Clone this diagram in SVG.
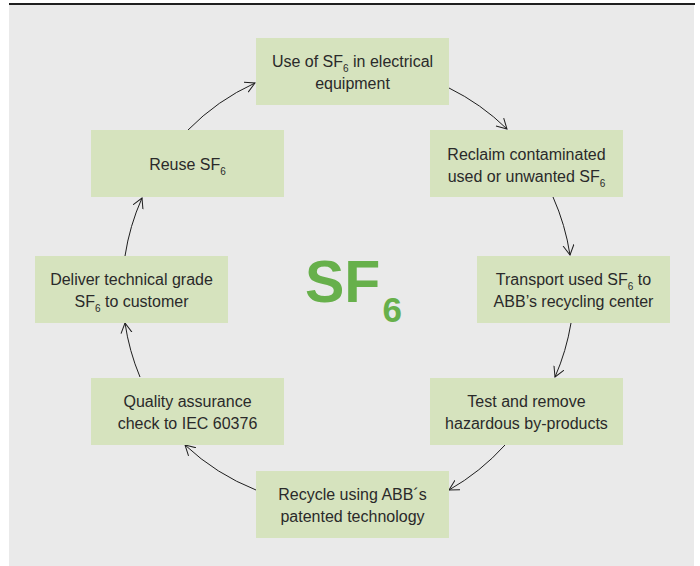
<svg xmlns="http://www.w3.org/2000/svg" width="700" height="566" viewBox="0 0 700 566">
<defs>
<style>
.box{fill:#D6E3BE}
.t{font-family:"Liberation Sans",Arial,sans-serif;font-size:16px;fill:#2a2a2a;text-anchor:middle}
.s{font-size:10px}
.c{fill:none;stroke:#1e1e1e;stroke-width:1}
</style>
<marker id="ah" markerWidth="14" markerHeight="14" refX="10" refY="6" orient="auto" markerUnits="userSpaceOnUse">
<path d="M0,0.5 L10,6 L0,11.5" fill="none" stroke="#1e1e1e" stroke-width="1"/>
</marker>
</defs>
<rect x="0" y="0" width="700" height="566" fill="#ffffff"/>
<rect x="9" y="5" width="685" height="561" fill="#EAEAEA"/>
<rect x="9" y="3" width="686" height="2" fill="#1f1f1f"/>

<g id="connectors">
<path class="c" marker-end="url(#ah)" d="M449,88 A225,225 0 0 1 507,129"/>
<path class="c" marker-end="url(#ah)" d="M553,197 A225,225 0 0 1 570,255"/>
<path class="c" marker-end="url(#ah)" d="M571,323 A225,225 0 0 1 555,377"/>
<path class="c" marker-end="url(#ah)" d="M505,445 A225,225 0 0 1 449,490"/>
<path class="c" marker-end="url(#ah)" d="M256,490 A225,225 0 0 1 185,445"/>
<path class="c" marker-end="url(#ah)" d="M140,377 A225,225 0 0 1 125,323"/>
<path class="c" marker-end="url(#ah)" d="M125,256 A225,225 0 0 1 142,198"/>
<path class="c" marker-end="url(#ah)" d="M188,130 A225,225 0 0 1 255,83"/>
</g>

<g id="n1">
<rect class="box" x="256" y="38" width="193" height="67"/>
<text class="t" x="352.5" y="67">Use of SF<tspan class="s" dy="5">6</tspan><tspan dy="-5"> in electrical</tspan></text>
<text class="t" x="352.5" y="89">equipment</text>
</g>
<g id="n2">
<rect class="box" x="430" y="130" width="193" height="67"/>
<text class="t" x="526.5" y="160">Reclaim contaminated</text>
<text class="t" x="526.5" y="182">used or unwanted SF<tspan class="s" dy="5">6</tspan></text>
</g>
<g id="n3">
<rect class="box" x="477" y="256" width="193" height="67"/>
<text class="t" x="573.5" y="285">Transport used SF<tspan class="s" dy="5">6</tspan><tspan dy="-5"> to</tspan></text>
<text class="t" x="573.5" y="307">ABB’s recycling center</text>
</g>
<g id="n4">
<rect class="box" x="430" y="378" width="193" height="67"/>
<text class="t" x="526.5" y="407">Test and remove</text>
<text class="t" x="526.5" y="429">hazardous by-products</text>
</g>
<g id="n5">
<rect class="box" x="256" y="471" width="193" height="67"/>
<text class="t" x="352.5" y="500">Recycle using ABB´s</text>
<text class="t" x="352.5" y="522">patented technology</text>
</g>
<g id="n6">
<rect class="box" x="91" y="378" width="193" height="67"/>
<text class="t" x="187.5" y="407">Quality assurance</text>
<text class="t" x="187.5" y="429">check to IEC 60376</text>
</g>
<g id="n7">
<rect class="box" x="35" y="256" width="193" height="67"/>
<text class="t" x="131.5" y="285">Deliver technical grade</text>
<text class="t" x="131.5" y="307">SF<tspan class="s" dy="5">6</tspan><tspan dy="-5"> to customer</tspan></text>
</g>
<g id="n8">
<rect class="box" x="91" y="130" width="193" height="67"/>
<text class="t" x="187.5" y="170">Reuse SF<tspan class="s" dy="5">6</tspan></text>
</g>

<g id="center">
<text x="305" y="302" font-family="Liberation Sans,Arial,sans-serif" font-weight="bold" font-size="59" fill="#67B04B">SF<tspan font-size="35" dy="20" dx="2">6</tspan></text>
</g>
</svg>
